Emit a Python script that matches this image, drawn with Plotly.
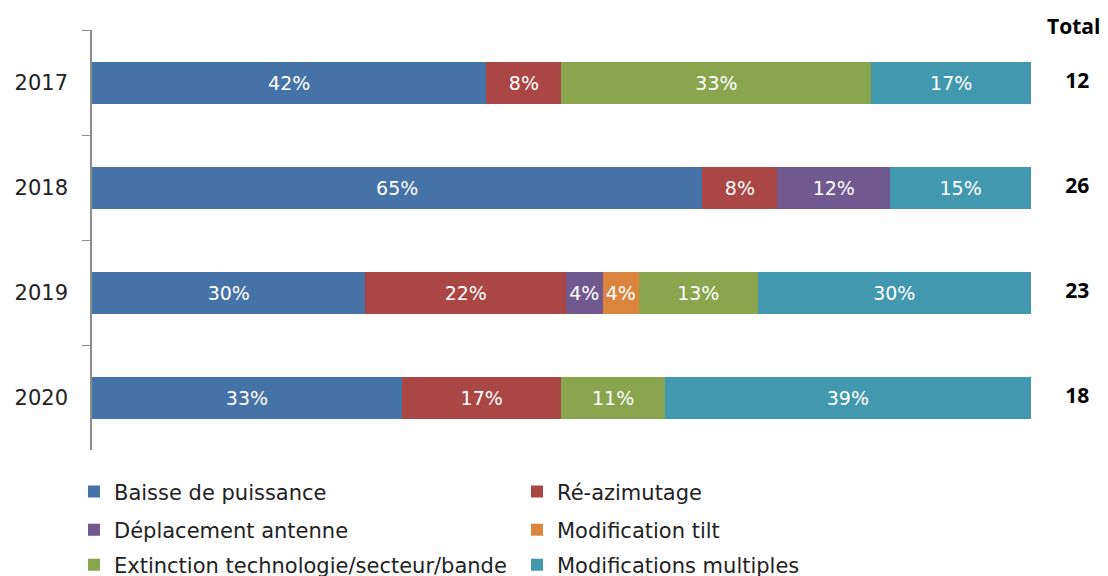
import plotly.graph_objects as go

years = ["2017", "2018", "2019", "2020"]
series_names = [
    "Baisse de puissance",
    "Ré-azimutage",
    "Déplacement antenne",
    "Modification tilt",
    "Extinction technologie/secteur/bande",
    "Modifications multiples",
]
baisse = [42, 65, 30, 33]
reazimutage = [8, 8, 22, 17]
deplacement = [None, 12, 4, None]
tilt = [None, None, 4, None]
extinction = [33, None, 13, 11]
multiples = [17, 15, 30, 39]
totals = [12, 26, 23, 18]

colors = ["#4572A7", "#AA4643", "#71588F", "#DB843D", "#89A54E", "#4198AF"]
all_values = [baisse, reazimutage, deplacement, tilt, extinction, multiples]
legend_ids = ["legend", "legend", "legend2", "legend2", "legend3", "legend3"]

fig = go.Figure()
for name, vals, col, lg in zip(series_names, all_values, colors, legend_ids):
    fig.add_trace(go.Bar(
        y=years, x=vals, name=name, orientation="h",
        marker=dict(color=col, line=dict(width=0)),
        text=[f"{v}%" if v is not None else "" for v in vals],
        textposition="inside", insidetextanchor="middle", textangle=0,
        textfont=dict(color="white", size=19, family="DejaVu Sans"),
        constraintext="none",
        legend=lg, hoverinfo="skip",
    ))

fig.add_trace(go.Scatter(
    y=years, x=[0.6] * len(years), xaxis="x2", mode="text",
    text=[f"<b>{t}</b>" for t in totals], textposition="middle center",
    textfont=dict(size=21, family="Open Sans", color="black"),
    showlegend=False, hoverinfo="skip", cliponaxis=False,
))
fig.add_annotation(x=0.55, y=1.0, xref="x2", yref="paper", text="<b>Total</b>",
                   showarrow=False, yanchor="bottom", yshift=-12,
                   font=dict(size=21, family="Open Sans", color="black"))

leg_common = dict(orientation="h", x=0.06, xref="container", xanchor="left",
                  yref="container", yanchor="middle",
                  entrywidth=398, entrywidthmode="pixels",
                  font=dict(size=21, family="DejaVu Sans", color="#222"),
                  bgcolor="rgba(0,0,0,0)", traceorder="normal")

fig.update_layout(
    width=1100, height=568,
    margin=dict(l=84, r=0, t=22, b=126, autoexpand=False),
    barmode="stack", barnorm="percent", bargap=0.6,
    plot_bgcolor="white", paper_bgcolor="white",
    xaxis=dict(visible=False, range=[0, 100], domain=[0, 0.9242]),
    xaxis2=dict(visible=False, range=[0, 1], domain=[0.9242, 1], anchor="y"),
    yaxis=dict(type="category", categoryorder="array", categoryarray=years,
               autorange="reversed", showline=True, linecolor="#8c8c8c", linewidth=1.5,
               ticks="outside", tickson="boundaries", ticklen=8, tickcolor="#8c8c8c",
               tickfont=dict(size=21, family="DejaVu Sans", color="#222"),
               ticklabelstandoff=18, showgrid=False, automargin=False),
    legend=dict(y=0.148, **leg_common),
    legend2=dict(y=0.081, **leg_common),
    legend3=dict(y=0.019, **leg_common),
    showlegend=True,
)

fig.write_html("out.html")
